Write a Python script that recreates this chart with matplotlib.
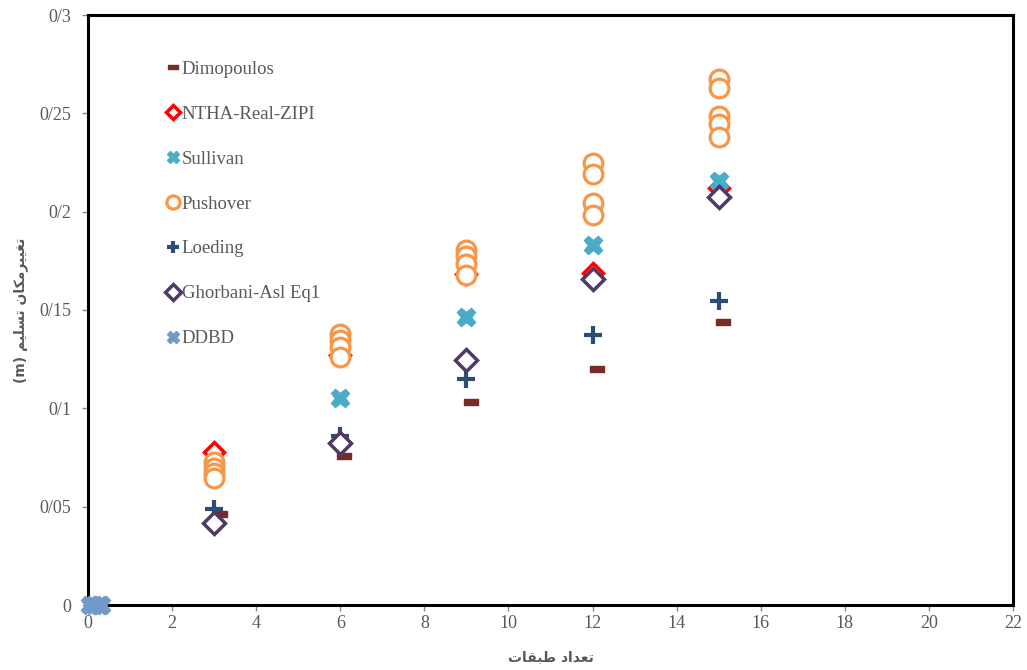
import matplotlib
matplotlib.use('Agg')
import matplotlib.pyplot as plt
from matplotlib.path import Path
from matplotlib.ticker import FuncFormatter

stories = [3, 6, 9, 12, 15]

dimopoulos_x = [3.15, 6.1, 9.1, 12.1, 15.1]
dimopoulos = [0.0465, 0.076, 0.103, 0.120, 0.144]
ntha = [0.078, 0.127, 0.1685, 0.169, 0.212]
sullivan = [float('nan'), 0.1055, 0.1465, 0.183, 0.2155]
loeding = [0.049, 0.086, 0.115, 0.1375, 0.1545]
ghorbani = [0.0415, 0.0825, 0.1245, 0.166, 0.2075]

pushover_x = [3, 3, 3, 3, 6, 6, 6, 6, 9, 9, 9, 9, 12, 12, 12, 12, 15, 15, 15, 15, 15]
pushover = [0.0725, 0.0695, 0.067, 0.0645,
            0.138, 0.135, 0.131, 0.126,
            0.1805, 0.1775, 0.1735, 0.168,
            0.2245, 0.219, 0.2045, 0.1985,
            0.2675, 0.263, 0.2485, 0.2445, 0.238]

ddbd_x = [0.05, 0.15, 0.25, 0.3]
ddbd = [0, 0, 0, 0]

# arabic text written in visual order with presentation forms
x_label = '\uFE95\uFE8E\uFED8\uFE92\uFEC3 \uFEA9\uFE8D\uFEAA\uFECC\uFE97'
y_label = ('(m) ' + '\uFEE2\uFBFF\uFEE0\uFEB4\uFE97' + ' '
           + '\uFEE5\uFE8E\uFB91\uFEE3\uFEAE\uFBFF\uFBFF\uFED0\uFE97')

dash = Path([(-1, -0.45), (1, -0.45), (1, 0.45), (-1, 0.45), (-1, -0.45)],
            [Path.MOVETO, Path.LINETO, Path.LINETO, Path.LINETO, Path.CLOSEPOLY])

plt.rcParams['font.family'] = ['Liberation Serif', 'DejaVu Sans']

fig = plt.figure(figsize=(10.27, 6.70), dpi=100)
ax = fig.add_axes([88 / 1027, 65 / 670, 925 / 1027, 590 / 670])

ax.plot(dimopoulos_x, dimopoulos, ls='none', marker=dash, ms=10,
        color='#772C2A', mec='#772C2A', label='Dimopoulos')
ax.plot(stories, ntha, ls='none', marker='D', ms=10, mfc='white',
        mec='#FF0000', mew=2.5, label='NTHA-Real-ZIPI')
ax.plot(stories, sullivan, ls='none', marker='X', ms=13,
        color='#4BACC6', mec='#4BACC6', label='Sullivan')
ax.plot(pushover_x, pushover, ls='none', marker='o', ms=13.5, mfc='white',
        mec='#F79646', mew=2.3, label='Pushover')
ax.plot(stories, loeding, ls='none', marker='+', ms=13,
        mec='#2C4D75', mew=3, label='Loeding')
ax.plot(stories, ghorbani, ls='none', marker='D', ms=11, mfc='white',
        mec='#4E3A66', mew=2.5, label='Ghorbani-Asl Eq1')
ax.plot(ddbd_x, ddbd, ls='none', marker='X', ms=13,
        color='#7399C6', mec='#7399C6', label='DDBD', clip_on=False, zorder=5)

ax.set_xlim(0, 22)
ax.set_ylim(0, 0.3)
ax.set_xticks(range(0, 23, 2))
ax.set_yticks([0, 0.05, 0.1, 0.15, 0.2, 0.25, 0.3])
ax.yaxis.set_major_formatter(FuncFormatter(
    lambda v, p: '0' if v == 0 else ('%g' % round(v, 2)).replace('.', '/')))
ax.tick_params(colors='#888888', labelcolor='#595959', labelsize=13,
               length=4, width=1)
ax.tick_params(axis='y', pad=8)
for s in ax.spines.values():
    s.set_linewidth(2.2)
    s.set_color('black')

ax.set_xlabel(x_label, family='DejaVu Sans', fontsize=10, fontweight='bold',
              color='#595959', labelpad=13)
ax.set_ylabel(y_label, family=['DejaVu Sans'], fontsize=10, fontweight='bold',
              color='#595959', labelpad=8)

leg = ax.legend(loc='upper left', bbox_to_anchor=(0.075, 0.935), frameon=False,
                fontsize=13.5, labelspacing=1.48, handletextpad=0.0,
                handlelength=0.9, borderaxespad=0, markerscale=0.7)
for t in leg.get_texts():
    t.set_color('#595959')

fig.savefig('out.png', dpi=100)
